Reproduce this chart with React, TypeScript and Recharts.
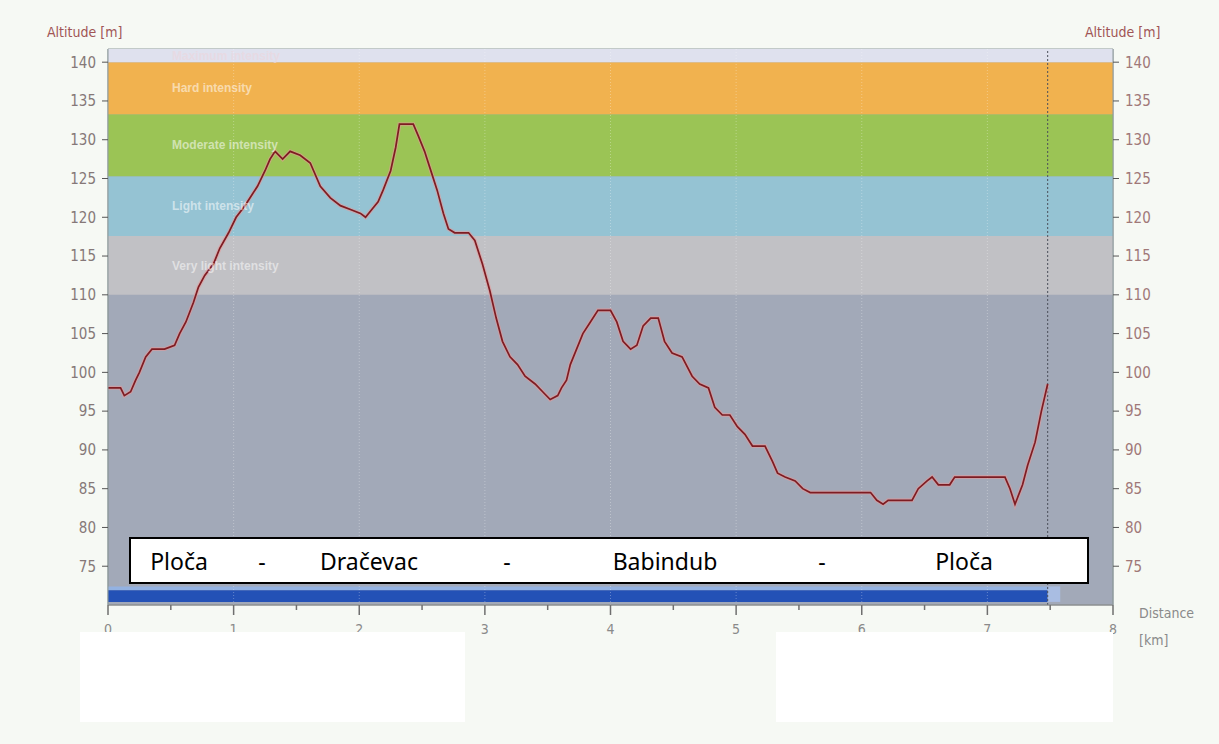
import { ComposedChart, Line, XAxis, YAxis, ReferenceArea, ReferenceLine } from 'recharts'

// elevation profile
const distanceKm = [
  0, 0.1, 0.13, 0.18, 0.22, 0.25, 0.3, 0.35, 0.45, 0.53, 0.57, 0.62, 0.68, 0.72, 0.77, 0.84, 0.89, 0.96,
  1.02, 1.09, 1.15, 1.19, 1.25, 1.29, 1.33, 1.39, 1.45, 1.53, 1.61, 1.69, 1.77, 1.85, 1.93, 2.01, 2.05,
  2.1, 2.15, 2.19, 2.25, 2.29, 2.32, 2.36, 2.43, 2.47, 2.52, 2.56, 2.62, 2.67, 2.71, 2.76, 2.87, 2.92,
  2.98, 3.04, 3.09, 3.14, 3.2, 3.26, 3.32, 3.4, 3.46, 3.52, 3.58, 3.61, 3.65, 3.68, 3.73, 3.78, 3.84,
  3.9, 4.0, 4.05, 4.1, 4.16, 4.21, 4.26, 4.32, 4.38, 4.43, 4.49, 4.57, 4.65, 4.71, 4.78, 4.83, 4.89,
  4.95, 5.01, 5.07, 5.13, 5.23, 5.29, 5.33, 5.39, 5.47, 5.53, 5.59, 6.07, 6.12, 6.17, 6.21, 6.25, 6.4,
  6.45, 6.52, 6.56, 6.61, 6.7, 6.74, 7.14, 7.18, 7.22, 7.28, 7.32, 7.38, 7.43, 7.48,
]
const altitudeM = [
  98, 98, 97, 97.5, 99, 100, 102, 103, 103, 103.5, 105, 106.5, 109, 111, 112.5, 114, 116, 118,
  120, 121.5, 123, 124, 126, 127.5, 128.5, 127.5, 128.5, 128, 127, 124, 122.5, 121.5, 121, 120.5, 120,
  121, 122, 123.5, 126, 129, 132, 132, 132, 130.5, 128.5, 126.5, 123.5, 120.5, 118.5, 118, 118, 117,
  114, 110.5, 107, 104, 102, 101, 99.5, 98.5, 97.5, 96.5, 97, 98, 99, 101, 103, 105, 106.5,
  108, 108, 106.5, 104, 103, 103.5, 106, 107, 107, 104, 102.5, 102, 99.5, 98.5, 98, 95.5, 94.5,
  94.5, 93, 92, 90.5, 90.5, 88.5, 87, 86.5, 86, 85, 84.5, 84.5, 83.5, 83, 83.5, 83.5, 83.5,
  85, 86, 86.5, 85.5, 85.5, 86.5, 86.5, 85, 83, 85.5, 88, 91, 95, 98.5,
]

const xTicks = [0, 0.5, 1, 1.5, 2, 2.5, 3, 3.5, 4, 4.5, 5, 5.5, 6, 6.5, 7, 7.5, 8]
const yTicks = [75, 80, 85, 90, 95, 100, 105, 110, 115, 120, 125, 130, 135, 140]
const gridKm = [1, 2, 3, 4, 5, 6, 7]

const bandNames = ['Very light intensity', 'Light intensity', 'Moderate intensity', 'Hard intensity', 'Maximum intensity']
const bandFrom = [110, 117.6, 125.3, 133.3, 140]
const bandTo = [117.6, 125.3, 133.3, 140, 141.7]

const routeStops = ['Ploča', '-', 'Dračevac', '-', 'Babindub', '-', 'Ploča']

const data = distanceKm.map((d, i) => ({ d, alt: altitudeM[i] }))
const routeEnd = distanceKm[distanceKm.length - 1]

const bandColors = ['#c1c1c5', '#95c3d3', '#9bc455', '#f1b24f', '#dfe1ee']
const bandTextColors = ['rgba(255,255,255,0.5)', 'rgba(255,255,255,0.55)', 'rgba(255,255,255,0.55)', 'rgba(255,255,255,0.55)', 'rgba(235,215,222,0.7)']
const stopCenters = [177, 260, 367, 505, 663, 820, 962]

const narrow = "'Liberation Sans Narrow', 'DejaVu Sans Condensed', 'Liberation Sans', sans-serif"

const XTick = (props: any) => {
  const { x, y, payload } = props
  const major = Number.isInteger(payload.value)
  return (
    <g>
      <line x1={x} x2={x} y1={y} y2={y + (major ? 10 : 5)} stroke="#6f6f6f" strokeWidth={1.5} />
      {major && (
        <text x={x} y={y + 29} textAnchor="middle" fill="#8a8a8a" fontSize={14} fontFamily={narrow}>
          {payload.value}
        </text>
      )}
    </g>
  )
}

export default function App() {
  return (
    <div style={{ position: 'absolute', left: 0, top: 0, width: 1219, height: 744, background: '#f6f9f4', overflow: 'hidden' }}>
      <ComposedChart
        width={1219}
        height={744}
        data={data}
        margin={{ top: 49, left: 68, right: 66, bottom: 109 }}
      >
        <XAxis
          dataKey="d"
          type="number"
          domain={[0, 8]}
          ticks={xTicks}
          height={30}
          tickLine={false}
          tickSize={0}
          tickMargin={0}
          axisLine={{ stroke: '#8a8a8a' }}
          tick={<XTick />}
          interval={0}
        />
        <YAxis
          yAxisId="left"
          domain={[70, 141.7]}
          ticks={yTicks}
          allowDataOverflow
          width={40}
          tickSize={6}
          tickMargin={6}
          axisLine={{ stroke: '#8e9a9c' }}
          tickLine={{ stroke: '#555' }}
          tick={{ fill: '#857878', fontSize: 15, fontFamily: narrow }}
          interval={0}
        />
        <YAxis
          yAxisId="right"
          orientation="right"
          domain={[70, 141.7]}
          ticks={yTicks}
          allowDataOverflow
          width={40}
          tickSize={6}
          tickMargin={6}
          axisLine={{ stroke: '#8e9a9c' }}
          tickLine={{ stroke: '#555' }}
          tick={{ fill: '#a07878', fontSize: 15, fontFamily: narrow }}
          interval={0}
        />
        <ReferenceArea yAxisId="left" x1={0} x2={8} y1={70} y2={141.7} fill="#a2a9b8" fillOpacity={1} stroke="#8e9a9c" />
        {bandNames.map((name, i) => (
          <ReferenceArea
            key={name}
            yAxisId="left"
            x1={0}
            x2={8}
            y1={bandFrom[i]}
            y2={bandTo[i]}
            fill={bandColors[i]}
            fillOpacity={1}
            label={{ value: name, position: 'insideLeft', offset: 64, fill: bandTextColors[i], fontSize: 12, fontWeight: 'bold', fontFamily: "'Liberation Sans', sans-serif" }}
          />
        ))}
        {gridKm.map((k) => (
          <ReferenceLine key={k} yAxisId="left" x={k} stroke="#ffffff" strokeOpacity={0.3} strokeDasharray="1 2" />
        ))}
        <ReferenceArea yAxisId="left" x1={0} x2={routeEnd} y1={71.9} y2={72.4} fill="#93b2e2" fillOpacity={1} />
        <ReferenceArea yAxisId="left" x1={0} x2={routeEnd} y1={70.4} y2={71.9} fill="#2351b6" fillOpacity={1} />
        <ReferenceArea yAxisId="left" x1={routeEnd} x2={routeEnd + 0.1} y1={70.4} y2={72.4} fill="#a9bde2" fillOpacity={1} />
        <ReferenceLine yAxisId="left" x={routeEnd} stroke="#4a4f5a" strokeDasharray="2 2" />
        <Line
          yAxisId="left"
          dataKey="alt"
          type="linear"
          stroke="#e89898"
          strokeOpacity={0.55}
          strokeWidth={4}
          dot={false}
          isAnimationActive={false}
        />
        <Line
          yAxisId="left"
          dataKey="alt"
          type="linear"
          stroke="#7e1c22"
          strokeWidth={1.7}
          dot={false}
          isAnimationActive={false}
        />
      </ComposedChart>

      <div style={{ position: 'absolute', left: 47, top: 24, color: '#a05555', fontSize: 14, fontFamily: narrow }}>Altitude [m]</div>
      <div style={{ position: 'absolute', left: 1085, top: 24, color: '#a05555', fontSize: 14, fontFamily: narrow }}>Altitude [m]</div>
      <div style={{ position: 'absolute', left: 1139, top: 600, color: '#8a8a8a', fontSize: 14, fontFamily: narrow, lineHeight: '27px' }}>
        Distance
        <br />
        [km]
      </div>

      <div
        style={{
          position: 'absolute',
          left: 129,
          top: 537,
          width: 960,
          height: 47,
          boxSizing: 'border-box',
          border: '2px solid #000',
          background: '#fff',
        }}
      >
        {routeStops.map((s, i) => (
          <span
            key={i}
            style={{
              position: 'absolute',
              left: stopCenters[i] - 129 - 100,
              width: 200,
              top: 6,
              textAlign: 'center',
              fontSize: 23,
              fontFamily: "'Noto Sans', 'Open Sans', sans-serif",
              color: '#000',
            }}
          >
            {s}
          </span>
        ))}
      </div>

      <div style={{ position: 'absolute', left: 80, top: 632, width: 385, height: 90, background: '#fff' }} />
      <div style={{ position: 'absolute', left: 776, top: 632, width: 337, height: 90, background: '#fff' }} />
    </div>
  )
}
